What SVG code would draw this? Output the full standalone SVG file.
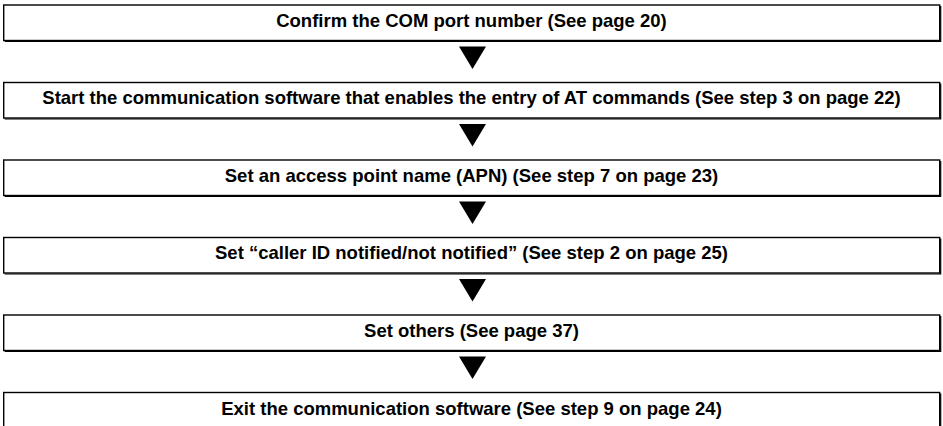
<svg xmlns="http://www.w3.org/2000/svg" width="943" height="426" viewBox="0 0 943 426">
<style>
.box{fill:#fff;stroke:#000;stroke-width:1.4}
.sh{fill:none;stroke:#000;stroke-width:1.2}
.t{font-family:"Liberation Sans",Arial,sans-serif;font-weight:bold;font-size:18.5px;fill:#000;text-anchor:middle}
.arr{fill:#000}
</style>
<defs>
<g id="frame">
<rect class="box" x="0" y="0" width="936" height="35.5"/>
<polyline class="sh" points="937,1 937,36.5 1,36.5"/>
</g>
</defs>
<g id="connectors">
<polygon class="arr" points="459,46.5 486,46.5 472.5,69"/>
<polygon class="arr" points="459,124 486,124 472.5,146.5"/>
<polygon class="arr" points="459,201.5 486,201.5 472.5,224"/>
<polygon class="arr" points="459,279 486,279 472.5,301.5"/>
<polygon class="arr" points="459,356.5 486,356.5 472.5,379"/>
</g>
<g id="n1"><use href="#frame" x="3.7" y="5"/><text class="t" x="471.5" y="26.5">Confirm the COM port number (See page 20)</text></g>
<g id="n2"><use href="#frame" x="3.7" y="82.5"/><text class="t" x="471.5" y="104">Start the communication software that enables the entry of AT commands (See step 3 on page 22)</text></g>
<g id="n3"><use href="#frame" x="3.7" y="160"/><text class="t" x="471.5" y="181.5">Set an access point name (APN) (See step 7 on page 23)</text></g>
<g id="n4"><use href="#frame" x="3.7" y="237.5"/><text class="t" x="471.5" y="259">Set “caller ID notified/not notified” (See step 2 on page 25)</text></g>
<g id="n5"><use href="#frame" x="3.7" y="315"/><text class="t" x="471.5" y="336.5">Set others (See page 37)</text></g>
<g id="n6"><use href="#frame" x="3.7" y="392.5"/><text class="t" x="471.5" y="414.5">Exit the communication software (See step 9 on page 24)</text></g>
</svg>
